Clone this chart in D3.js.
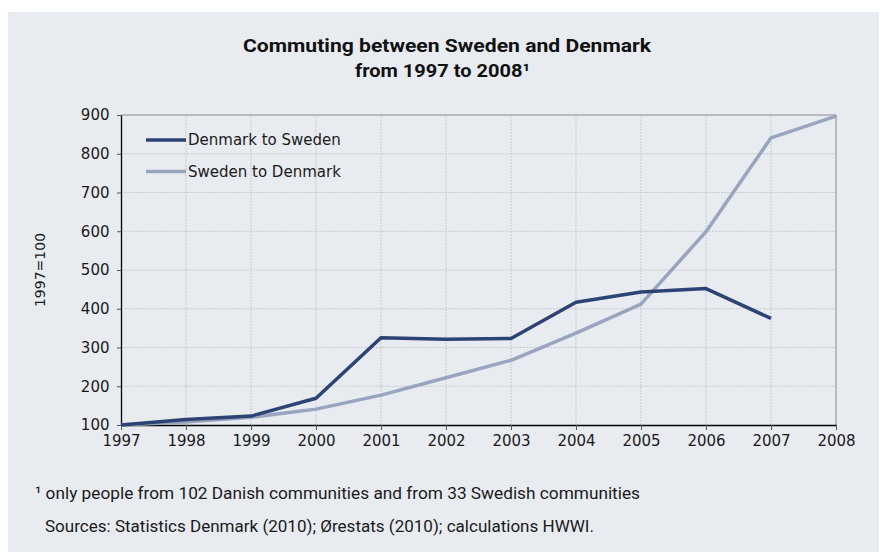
<!DOCTYPE html>
<html>
<head>
<meta charset="utf-8">
<script src="https://cdn.jsdelivr.net/npm/d3@7"></script>
<style>
  body { margin: 0; background: #fff; }
  svg { display: block; }
</style>
</head>
<body>
<svg id="chart" width="880" height="553"></svg>
<script>
// data (index 1997=100)
const years = [1997, 1998, 1999, 2000, 2001, 2002, 2003, 2004, 2005, 2006, 2007, 2008];
const dkToSe = [100, 114, 123, 169, 325, 321, 323, 417, 443, 452, 375, null];
const seToDk = [100, 108, 120, 141, 177, 222, 267, 337, 412, 599, 841, 897];
const seriesNames = ["Denmark to Sweden", "Sweden to Denmark"];
const seriesColors = ["#2c4374", "#99a5bf"];
const yTicks = [100, 200, 300, 400, 500, 600, 700, 800, 900];

const svg = d3.select("#chart"),
      width = +svg.attr("width"),
      height = +svg.attr("height"),
      margin = { top: 115, right: 44, bottom: 128, left: 121 };

const font = "'DejaVu Sans', sans-serif";
const narrow = "Roboto, sans-serif";

// panel background
svg.append("rect")
  .attr("x", 8).attr("y", 12)
  .attr("width", 871).attr("height", 540)
  .attr("fill", "#e8ebf0");

// title (condensed look via textLength)
const title = svg.append("g")
  .attr("font-family", narrow)
  .attr("font-weight", "bold")
  .attr("font-size", 19)
  .attr("fill", "#111");
title.append("text").attr("x", 243).attr("y", 52)
  .attr("textLength", 408).attr("lengthAdjust", "spacingAndGlyphs")
  .text("Commuting between Sweden and Denmark");
title.append("text").attr("x", 355).attr("y", 77)
  .attr("textLength", 175).attr("lengthAdjust", "spacingAndGlyphs")
  .text("from 1997 to 2008\u00b9");

const x = d3.scaleLinear()
  .domain([years[0], years[years.length - 1]])
  .range([margin.left, width - margin.right]);

const y = d3.scaleLinear()
  .domain([100, 900])
  .range([height - margin.bottom, margin.top]);

// grid
svg.append("g")
  .selectAll("line")
  .data(yTicks.slice(1, -1))
  .join("line")
  .attr("x1", x.range()[0]).attr("x2", x.range()[1])
  .attr("y1", d => y(d)).attr("y2", d => y(d))
  .attr("stroke", "#c9ccd2").attr("stroke-width", 1)
  .attr("stroke-dasharray", "2,1");

svg.append("g")
  .selectAll("line")
  .data(years.slice(1, -1))
  .join("line")
  .attr("x1", d => x(d)).attr("x2", d => x(d))
  .attr("y1", y.range()[0]).attr("y2", y.range()[1])
  .attr("stroke", "#c9ccd2").attr("stroke-width", 1)
  .attr("stroke-dasharray", "2,1");

// top and right frame
svg.append("path")
  .attr("d", `M${x.range()[0]},${y(900)}H${x.range()[1]}V${y(100)}`)
  .attr("fill", "none")
  .attr("stroke", "#8a8a8a")
  .attr("stroke-width", 1);

// axes
const xAxis = svg.append("g")
  .attr("transform", `translate(0,${y(100)})`)
  .call(d3.axisBottom(x).tickValues(years).tickFormat(d3.format("d")).tickSize(5).tickSizeOuter(0));

const yAxis = svg.append("g")
  .attr("transform", `translate(${margin.left},0)`)
  .call(d3.axisLeft(y).tickValues(yTicks).tickSize(4).tickSizeOuter(0));

[xAxis, yAxis].forEach(g => {
  g.select(".domain").attr("stroke", "#000").attr("stroke-width", 1.3);
  g.selectAll(".tick line").attr("stroke", "#555");
  g.selectAll(".tick text")
    .attr("font-family", font)
    .attr("font-size", 15)
    .attr("fill", "#1a1a1a");
});
xAxis.selectAll(".tick text").attr("dy", "0.85em");
yAxis.selectAll(".tick text").attr("dx", "-0.3em").attr("dy", "0.32em");

// y axis label
svg.append("text")
  .attr("transform", `translate(45,${(y(100) + y(900)) / 2}) rotate(-90)`)
  .attr("text-anchor", "middle")
  .attr("font-family", font)
  .attr("font-size", 14)
  .attr("fill", "#1a1a1a")
  .text("1997=100");

// lines
const line = d3.line()
  .defined(d => d != null)
  .x((d, i) => x(years[i]))
  .y(d => y(d));

svg.append("path")
  .datum(seToDk)
  .attr("d", line)
  .attr("fill", "none")
  .attr("stroke", seriesColors[1])
  .attr("stroke-width", 3.5)
  .attr("stroke-linejoin", "round");

svg.append("path")
  .datum(dkToSe)
  .attr("d", line)
  .attr("fill", "none")
  .attr("stroke", seriesColors[0])
  .attr("stroke-width", 3.5)
  .attr("stroke-linejoin", "round");

// legend
const legend = svg.append("g");
seriesNames.forEach((name, i) => {
  const ly = 140 + i * 31.5;
  legend.append("line")
    .attr("x1", 146).attr("x2", 186)
    .attr("y1", ly).attr("y2", ly)
    .attr("stroke", seriesColors[i])
    .attr("stroke-width", 3.5);
  legend.append("text")
    .attr("x", 188).attr("y", ly)
    .attr("dy", "0.35em")
    .attr("font-family", font)
    .attr("font-size", 15)
    .attr("fill", "#1a1a1a")
    .text(name);
});

// footnotes
svg.append("text")
  .attr("x", 35).attr("y", 499)
  .attr("font-family", narrow)
  .attr("font-size", 17)
  .attr("fill", "#1a1a1a")
  .attr("textLength", 605).attr("lengthAdjust", "spacingAndGlyphs")
  .text("\u00b9 only people from 102 Danish communities and from 33 Swedish communities");

svg.append("text")
  .attr("x", 45).attr("y", 532)
  .attr("font-family", narrow)
  .attr("font-size", 17)
  .attr("fill", "#1a1a1a")
  .attr("textLength", 549).attr("lengthAdjust", "spacingAndGlyphs")
  .text("Sources: Statistics Denmark (2010); \u00d8restats (2010); calculations HWWI.");
</script>
</body>
</html>
